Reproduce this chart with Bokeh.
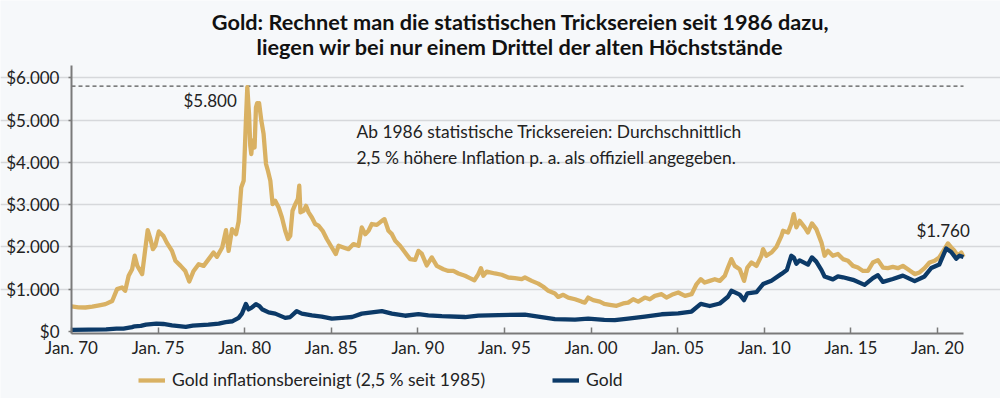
from bokeh.plotting import figure
from bokeh.models import ColumnDataSource, FixedTicker, Label, Legend, LegendItem
from bokeh.embed import file_html
from bokeh.resources import INLINE

# ---------------- data ----------------
adj_t = [1970.00, 1970.40, 1970.80, 1971.20, 1971.60, 1971.96, 1972.35, 1972.63, 1972.92, 1973.10,
         1973.30, 1973.50, 1973.65, 1973.80, 1974.08, 1974.27, 1974.40, 1974.55, 1974.70, 1974.84,
         1975.04, 1975.30, 1975.50, 1975.80, 1976.00, 1976.30, 1976.57, 1976.80, 1977.05, 1977.34,
         1977.63, 1977.92, 1978.20, 1978.40, 1978.70, 1978.92, 1979.07, 1979.27, 1979.50, 1979.65,
         1979.80, 1979.94, 1980.07, 1980.15, 1980.25, 1980.32, 1980.38, 1980.45, 1980.57, 1980.65,
         1980.72, 1980.77, 1980.83, 1980.96, 1981.09, 1981.23, 1981.34, 1981.48, 1981.61, 1981.76,
         1981.96, 1982.15, 1982.34, 1982.50, 1982.63, 1982.76, 1982.92, 1983.07, 1983.15, 1983.22,
         1983.40, 1983.54, 1983.69, 1983.88, 1984.07, 1984.26, 1984.50, 1984.74, 1985.03, 1985.26,
         1985.42, 1985.70, 1985.99, 1986.28, 1986.57, 1986.76, 1986.96, 1987.15, 1987.34, 1987.63,
         1987.92, 1988.07, 1988.30, 1988.50, 1988.69, 1988.97, 1989.26, 1989.55, 1989.84, 1990.03,
         1990.22, 1990.51, 1990.80, 1991.09, 1991.47, 1991.76, 1992.05, 1992.34, 1992.72, 1993.00,
         1993.26, 1993.49, 1993.64, 1993.78, 1993.97, 1994.45, 1994.84, 1995.22, 1995.60, 1995.99,
         1996.18, 1996.57, 1996.95, 1997.24, 1997.53, 1997.91, 1998.10, 1998.39, 1998.68, 1999.07,
         1999.45, 1999.64, 1999.83, 2000.12, 2000.50, 2000.76, 2001.08, 2001.47, 2001.85, 2002.14,
         2002.43, 2002.72, 2003.10, 2003.39, 2003.68, 2004.07, 2004.35, 2004.74, 2005.03, 2005.42,
         2005.80, 2006.09, 2006.33, 2006.56, 2006.85, 2007.14, 2007.43, 2007.72, 2007.90, 2008.10,
         2008.29, 2008.58, 2008.83, 2009.02, 2009.26, 2009.55, 2009.83, 2009.93, 2010.12, 2010.41,
         2010.70, 2010.99, 2011.08, 2011.37, 2011.56, 2011.70, 2011.85, 2012.04, 2012.33, 2012.52,
         2012.75, 2013.00, 2013.30, 2013.48, 2013.67, 2013.96, 2014.25, 2014.54, 2014.83, 2015.12,
         2015.40, 2015.70, 2015.98, 2016.27, 2016.56, 2016.85, 2017.13, 2017.42, 2017.71, 2018.00,
         2018.29, 2018.68, 2018.96, 2019.25, 2019.54, 2019.83, 2020.10, 2020.40, 2020.60, 2020.79,
         2020.98, 2021.17, 2021.37, 2021.50]
adj_v = [590, 570, 565, 585, 615, 645, 720, 1000, 1040, 960,
         1315, 1470, 1790, 1550, 1355, 1985, 2395, 2200, 1945, 2025,
         2365, 2260, 2100, 1905, 1670, 1550, 1430, 1180, 1430, 1590,
         1550, 1710, 1865, 1765, 1985, 2395, 1905, 2420, 2300, 2600,
         3405, 3565, 4985, 5780, 5145, 4400, 4195, 4510, 4350, 5300,
         5400, 5250, 5400, 4985, 4670, 3960, 3800, 3565, 3010, 3090,
         2930, 2695, 2380, 2185, 2260, 2850, 3010, 3130, 3445, 2815,
         2850, 2970, 2815, 2695, 2540, 2500, 2380, 2185, 1985, 1830,
         2025, 1985, 1945, 2065, 2025, 2460, 2300, 2380, 2540, 2520,
         2615, 2655, 2380, 2300, 2145, 2025, 1865, 1710, 1690, 1905,
         1840, 1560, 1750, 1550, 1470, 1430, 1430, 1370, 1315, 1260,
         1210, 1355, 1495, 1315, 1415, 1370, 1340, 1275, 1260, 1235,
         1275, 1195, 1130, 1055, 960, 895, 815, 865, 800, 760,
         705, 680, 800, 740, 705, 650, 630, 605, 660, 680,
         760, 705, 800, 760, 840, 880, 800, 880, 920, 840,
         880, 1120, 1235, 1155, 1195, 1235, 1195, 1315, 1510, 1710,
         1550, 1470, 1195, 1510, 1630, 1550, 1790, 1945, 1790, 1865,
         2000, 2260, 2380, 2340, 2540, 2775, 2460, 2615, 2460, 2340,
         2555, 2420, 2100, 1790, 1905, 1790, 1830, 1710, 1670, 1550,
         1510, 1430, 1430, 1630, 1685, 1510, 1495, 1525, 1495, 1550,
         1470, 1355, 1395, 1495, 1630, 1670, 1750, 1945, 2080, 1985,
         1905, 1790, 1865, 1760]

gold_t = [1970.0, 1971.0, 1972.0, 1972.6, 1973.0, 1973.5, 1973.65, 1974.0, 1974.3, 1974.9,
          1975.3, 1975.8, 1976.6, 1977.0, 1977.9, 1978.5, 1978.9, 1979.3, 1979.65, 1979.84,
          1980.07, 1980.22, 1980.4, 1980.65, 1980.85, 1981.0, 1981.38, 1981.76, 1982.34, 1982.63,
          1983.0, 1983.3, 1983.88, 1984.45, 1985.03, 1985.6, 1986.2, 1986.76, 1987.92, 1988.5,
          1989.26, 1990.03, 1990.6, 1991.38, 1992.72, 1993.49, 1994.65, 1996.18, 1997.14, 1997.91,
          1999.07, 1999.83, 2000.76, 2001.37, 2002.14, 2003.1, 2004.07, 2005.03, 2005.8, 2006.33,
          2006.85, 2007.43, 2007.9, 2008.1, 2008.58, 2008.83, 2009.02, 2009.55, 2009.93, 2010.41,
          2010.99, 2011.3, 2011.56, 2011.7, 2011.85, 2012.04, 2012.52, 2012.75, 2013.0, 2013.3,
          2013.48, 2013.96, 2014.25, 2014.54, 2015.12, 2015.79, 2016.27, 2016.56, 2016.85, 2017.42,
          2018.0, 2018.68, 2019.25, 2019.64, 2020.1, 2020.5, 2020.79, 2021.08, 2021.27, 2021.5]
gold_v = [35, 40, 48, 65, 65, 100, 120, 130, 160, 185,
          175, 140, 108, 135, 160, 185, 220, 240, 320, 420,
          650, 520, 560, 645, 600, 525, 450, 420, 320, 340,
          480, 420, 380, 350, 300, 320, 340, 420, 480, 420,
          370, 410, 380, 360, 340, 375, 385, 395, 340, 290,
          280, 300, 270, 265, 300, 350, 405, 425, 470, 650,
          600, 660, 820, 960, 870, 740, 900, 930, 1120, 1200,
          1360, 1450, 1790, 1750, 1600, 1680, 1580, 1750, 1650, 1450,
          1300, 1230, 1300, 1280, 1220, 1100, 1260, 1330, 1170, 1240,
          1320, 1190, 1300, 1500, 1580, 1960, 1880, 1720, 1790, 1760]

x_ticks = [1970, 1975, 1980, 1985, 1990, 1995, 2000, 2005, 2010, 2015, 2020]
x_tick_labels = ["Jan. 70", "Jan. 75", "Jan. 80", "Jan. 85", "Jan. 90", "Jan. 95",
                 "Jan. 00", "Jan. 05", "Jan. 10", "Jan. 15", "Jan. 20"]
y_ticks = [0, 1000, 2000, 3000, 4000, 5000, 6000]
y_tick_labels = ["$0", "$1.000", "$2.000", "$3.000", "$4.000", "$5.000", "$6.000"]

title_lines = ["Gold: Rechnet man die statistischen Tricksereien seit 1986 dazu,",
               "liegen wir bei nur einem Drittel der alten Höchststände"]
note_lines = ["Ab 1986 statistische Tricksereien: Durchschnittlich",
              "2,5 % höhere Inflation p. a. als offiziell angegeben."]
peak_value = 5800
peak_label = "$5.800"
last_label = "$1.760"
legend_labels = ["Gold inflationsbereinigt (2,5 % seit 1985)", "Gold"]

# ---------------- layout / styling ----------------
BG = "#f6f8fa"
GOLD = "#d9b163"
NAVY = "#0c3a68"
FONT = "Lato"
TXT = "#222222"

X_START, X_END = 1970, 2021.5          # extent of the axes
Y_BOTTOM, Y_TOP = -50, 6290
W, H = 1000, 398
PLOT_LEFT, PLOT_RIGHT = 71, 963         # page pixels of the axes box
PLOT_TOP, PLOT_BOTTOM = 65, 333
px_per_x = (PLOT_RIGHT - PLOT_LEFT) / (X_END - X_START)
px_per_y = (PLOT_BOTTOM - PLOT_TOP) / (Y_TOP - Y_BOTTOM)


def ax_x(px):   # page pixel -> data x (for annotation placement)
    return X_START + (px - PLOT_LEFT) / px_per_x


def ax_y(py):   # page pixel -> data y (for annotation placement)
    return Y_TOP - (py - PLOT_TOP) / px_per_y


# the frame covers the whole canvas; axes, grid and title sit inside it
xr = (ax_x(0), ax_x(W))
yr = (ax_y(H), ax_y(0))

p = figure(width=W, height=H, output_backend="svg", toolbar_location=None,
           x_range=xr, y_range=yr, title=None,
           min_border_left=0, min_border_right=0, min_border_top=0, min_border_bottom=0)
p.background_fill_color = BG
p.border_fill_color = BG
p.outline_line_color = None

# grid
p.xgrid.grid_line_color = None
p.ygrid.ticker = FixedTicker(ticks=y_ticks[1:])
p.ygrid.bounds = (X_START, X_END)
p.ygrid.grid_line_color = "#d6d8db"
p.ygrid.grid_line_width = 1.5

# axes
p.xaxis.fixed_location = Y_BOTTOM
p.yaxis.fixed_location = X_START
p.xaxis.bounds = (X_START, X_END)
p.yaxis.bounds = (Y_BOTTOM, Y_TOP)
p.xaxis.ticker = FixedTicker(ticks=x_ticks)
p.xaxis.major_label_overrides = {t: l for t, l in zip(x_ticks, x_tick_labels)}
p.yaxis.ticker = FixedTicker(ticks=y_ticks)
p.yaxis.major_label_overrides = {t: l for t, l in zip(y_ticks, y_tick_labels)}
for ax in (p.xaxis, p.yaxis):
    ax.axis_line_color = "#7a7a7a"
    ax.axis_line_width = 2
    ax.major_tick_line_color = "#7a7a7a"
    ax.major_tick_line_width = 1.5
    ax.minor_tick_line_color = None
    ax.major_label_text_font = FONT
    ax.major_label_text_font_size = "17px"
    ax.major_label_text_color = TXT
p.xaxis.major_tick_in = 6
p.xaxis.major_tick_out = 0
p.xaxis.major_label_standoff = 3
p.yaxis.major_tick_in = 0
p.yaxis.major_tick_out = 3
p.yaxis.major_label_standoff = 9

# dashed reference line at the old peak
p.line(x=[X_START, X_END], y=[peak_value, peak_value], line_color="#555555",
       line_width=1.2, line_dash="4 3")

src_adj = ColumnDataSource(dict(x=adj_t, y=adj_v))
src_gold = ColumnDataSource(dict(x=gold_t, y=gold_v))
r_adj = p.line("x", "y", source=src_adj, line_color=GOLD, line_width=4.3, line_join="round")
r_gold = p.line("x", "y", source=src_gold, line_color=NAVY, line_width=4.3, line_join="round")

# title (two centred bold lines)
for line, py in zip(title_lines, (21, 46)):
    p.add_layout(Label(x=ax_x(520), y=ax_y(py), text=line, text_align="center",
                       text_baseline="middle", text_font=FONT, text_font_style="bold",
                       text_font_size="21.7px", text_color="#111111"))

# annotations
p.add_layout(Label(x=ax_x(183), y=ax_y(100), text=peak_label, text_align="left",
                   text_baseline="middle", text_font=FONT, text_font_size="17px", text_color=TXT))
for line, py in zip(note_lines, (131, 157)):
    p.add_layout(Label(x=ax_x(356), y=ax_y(py), text=line, text_align="left",
                       text_baseline="middle", text_font=FONT, text_font_size="17.4px",
                       text_color=TXT))
p.add_layout(Label(x=ax_x(916), y=ax_y(230), text=last_label, text_align="left",
                   text_baseline="middle", text_font=FONT, text_font_size="17px", text_color=TXT))

# legend at the bottom of the canvas
lg = Legend(items=[LegendItem(label=legend_labels[0], renderers=[r_adj]),
                   LegendItem(label=legend_labels[1], renderers=[r_gold])],
            location=(138, 8), orientation="horizontal", padding=0, margin=0, spacing=67,
            border_line_color=None, background_fill_alpha=0, glyph_width=27, glyph_height=18,
            label_height=18, label_standoff=7, label_text_font=FONT,
            label_text_font_size="17.5px", label_text_color=TXT)
p.add_layout(lg, "center")

open("out.html", "w").write(file_html(p, INLINE))
